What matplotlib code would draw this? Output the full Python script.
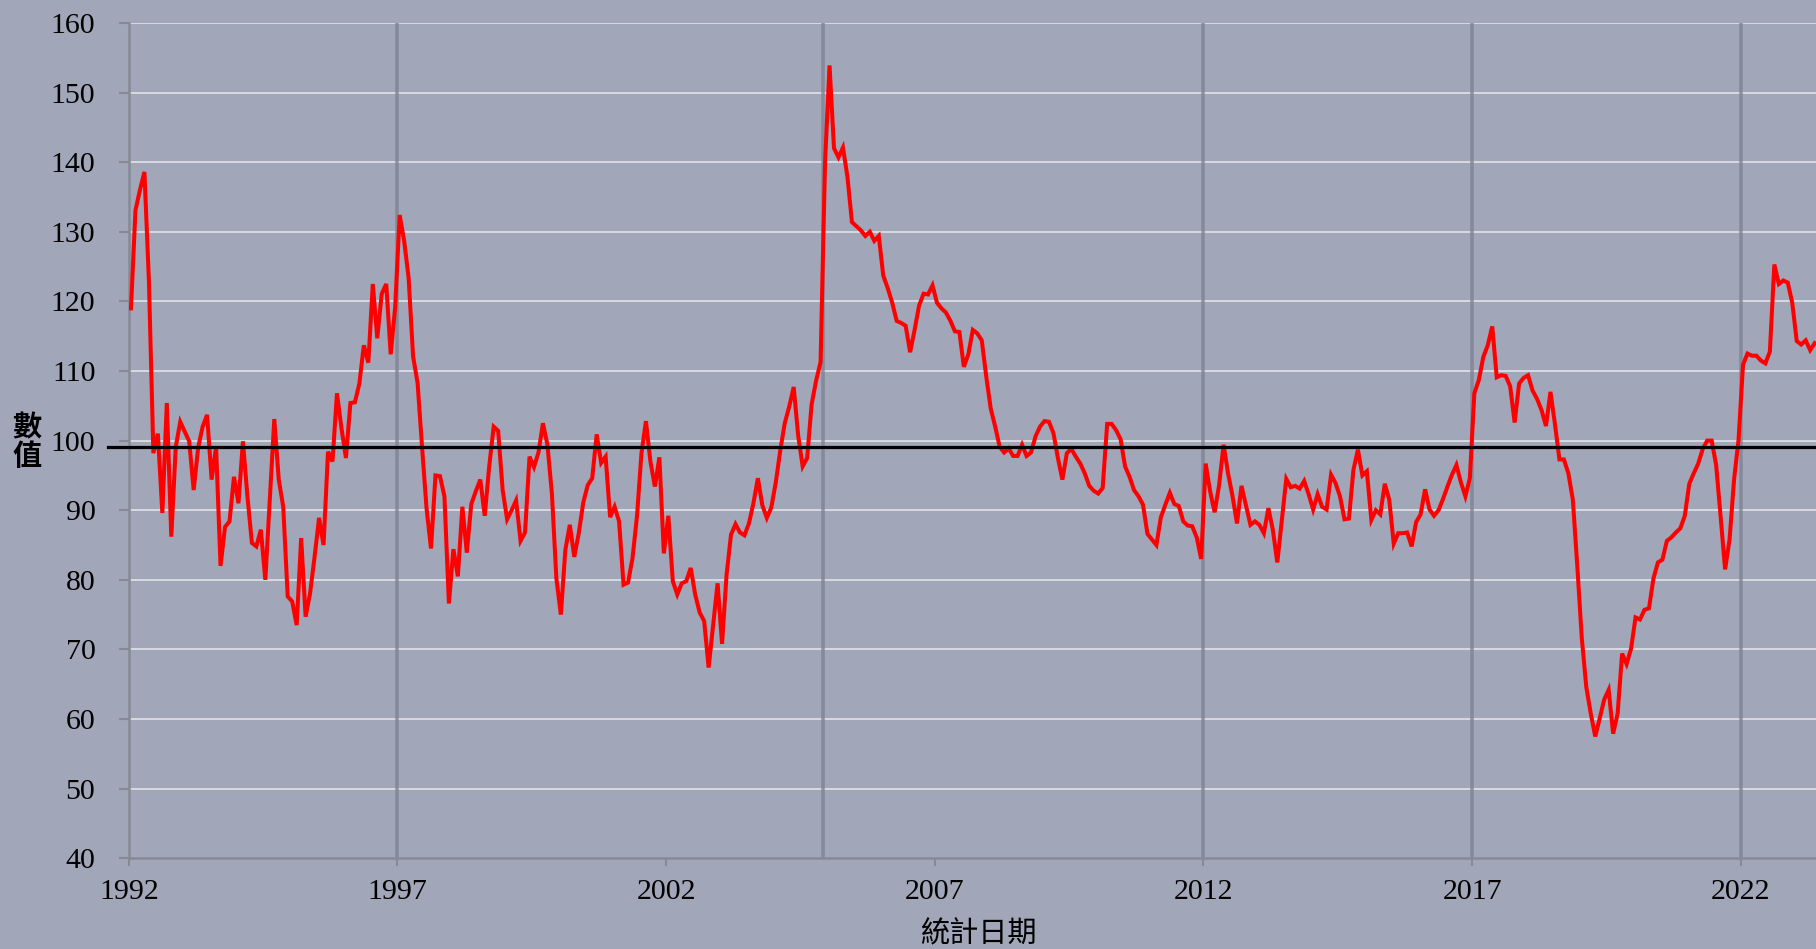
import matplotlib
matplotlib.use("Agg")
import matplotlib.pyplot as plt
import numpy as np

# ---- data (monthly, starting Jan 1992) ----
start_year = 1992
values = [
    119.0, 133.1, 136.0, 138.6, 123.0, 98.2, 101.0, 89.6, 105.4, 86.2,
    99.1, 102.7, 101.3, 99.9, 92.9, 99.0, 102.0, 103.7, 94.4, 99.1,
    82.0, 87.6, 88.4, 94.8, 91.0, 99.9, 92.0, 85.3, 84.8, 87.2,
    80.0, 91.5, 103.1, 94.4, 90.5, 77.6, 76.9, 73.5, 86.0, 74.7,
    78.1, 83.3, 88.9, 85.0, 98.4, 97.0, 106.8, 101.8, 97.5, 105.4,
    105.5, 108.2, 113.7, 111.2, 122.5, 114.7, 121.1, 122.5, 112.4, 119.2,
    132.4, 128.7, 123.4, 112.1, 108.3, 99.1, 90.3, 84.5, 95.0, 94.9,
    92.0, 76.6, 84.4, 80.5, 90.5, 83.9, 90.9, 92.7, 94.4, 89.2,
    96.3, 102.0, 101.4, 92.9, 88.7, 90.0, 91.4, 85.6, 86.8, 97.7,
    96.2, 98.3, 102.5, 99.4, 92.4, 80.2, 75.0, 84.3, 87.9, 83.3,
    86.7, 91.1, 93.6, 94.6, 100.9, 96.8, 97.7, 89.0, 90.5, 88.4,
    79.3, 79.6, 83.1, 89.1, 98.2, 102.8, 97.0, 93.4, 97.6, 83.8,
    89.2, 79.8, 77.9, 79.5, 79.8, 81.7, 77.9, 75.3, 74.1, 67.4,
    73.5, 79.5, 70.8, 80.7, 86.5, 88.0, 86.8, 86.4, 88.1, 91.0,
    94.6, 90.7, 88.9, 90.4, 94.0, 98.6, 102.5, 104.9, 107.7, 100.7,
    96.3, 97.5, 105.2, 108.6, 111.3, 140.0, 153.9, 142.0, 140.7, 142.1,
    137.9, 131.4, 130.8, 130.2, 129.4, 130.0, 128.7, 129.4, 123.7, 121.9,
    119.8, 117.2, 116.9, 116.5, 112.7, 115.9, 119.4, 121.1, 121.0, 122.3,
    119.8, 119.0, 118.4, 117.2, 115.7, 115.6, 110.6, 112.4, 115.9, 115.4,
    114.4, 109.2, 104.6, 102.0, 99.1, 98.3, 98.9, 97.8, 97.8, 99.4,
    97.8, 98.3, 100.6, 102.0, 102.8, 102.7, 101.1, 97.5, 94.4, 98.2,
    98.8, 97.7, 96.7, 95.3, 93.5, 92.8, 92.4, 93.2, 102.4, 102.4,
    101.5, 100.2, 96.3, 94.8, 92.9, 92.0, 90.8, 86.6, 85.8, 85.0,
    89.0, 90.8, 92.5, 90.9, 90.6, 88.4, 87.8, 87.7, 86.1, 83.0,
    96.7, 92.7, 89.7, 93.6, 99.4, 95.3, 92.0, 88.1, 93.5, 90.7,
    87.9, 88.4, 87.9, 86.7, 90.3, 87.2, 82.5, 88.5, 94.5, 93.3,
    93.5, 93.1, 94.2, 92.3, 90.1, 92.3, 90.5, 90.1, 95.1, 93.9,
    92.0, 88.7, 88.8, 95.8, 98.7, 95.0, 95.6, 88.6, 90.0, 89.4,
    93.8, 91.5, 85.2, 86.7, 86.7, 86.8, 84.8, 88.3, 89.4, 93.0,
    90.1, 89.2, 90.0, 91.6, 93.4, 95.1, 96.5, 94.0, 92.0, 94.6,
    106.8, 108.7, 112.0, 113.7, 116.4, 109.1, 109.4, 109.3, 107.8, 102.6,
    108.2, 109.0, 109.4, 107.2, 106.0, 104.4, 102.1, 107.0, 102.4, 97.3,
    97.3, 95.3, 91.5, 81.9, 71.6, 64.6, 60.8, 57.5, 60.1, 62.8,
    64.2, 57.9, 60.8, 69.4, 67.9, 70.1, 74.6, 74.3, 75.7, 75.9,
    80.2, 82.5, 82.9, 85.6, 86.1, 86.8, 87.4, 89.2, 93.8, 95.3,
    96.7, 98.8, 100.0, 100.0, 96.5, 89.1, 81.5, 85.8, 94.4, 100.1,
    110.9, 112.5, 112.2, 112.2, 111.5, 111.1, 112.8, 125.3, 122.5, 123.0,
    122.7, 119.8, 114.3, 113.8, 114.4, 113.0, 114.0,
]
reference_level = 99.1
event_years = [1997.0, 2004.92, 2012.0, 2017.0, 2022.0]
xtick_years = [1992, 1997, 2002, 2007, 2012, 2017, 2022]
ytick_values = [40, 50, 60, 70, 80, 90, 100, 110, 120, 130, 140, 150, 160]
x_label = "統計日期"
y_label = "數\n值"

# ---- styling ----
bg = "#a1a6b8"
serif = ["Liberation Serif", "DejaVu Serif"]
cjk = ["Noto Sans CJK TC", "DejaVu Sans"]

x = start_year + (np.arange(len(values)) + 0.5) / 12.0

fig = plt.figure(figsize=(18.16, 9.49), dpi=100, facecolor=bg)
ax = fig.add_axes([0.0709, 0.0956, 0.9291, 0.8802], facecolor=bg)

ax.set_xlim(1992, 2023.4)
ax.set_ylim(40, 160)

for yv in ytick_values[1:]:
    ax.axhline(yv, color="#dcdee5", lw=1.3, zorder=1)
for ev in event_years:
    ax.axvline(ev, color="#7f8494", lw=2.6, alpha=0.8, zorder=1.5)

ax.plot(x, values, color="#ff0000", lw=2.9, zorder=3, solid_joinstyle="miter")
ax.axhline(reference_level, xmin=-0.0121, xmax=1.0, color="black", lw=2.3,
           zorder=4, clip_on=False)

for s in ["top", "right"]:
    ax.spines[s].set_visible(False)
for s in ["left", "bottom"]:
    ax.spines[s].set_color("#878a95")
    ax.spines[s].set_linewidth(1.8)

ax.set_yticks(ytick_values)
ax.set_xticks(xtick_years)
ax.set_xticklabels([str(v) for v in xtick_years])
ax.tick_params(axis="y", direction="out", length=7, width=1.5, color="#878a95",
               pad=17, labelsize=21.5)
ax.tick_params(axis="x", direction="out", length=6, width=1.5, color="#878a95",
               pad=9, labelsize=21.5)
for lab in ax.get_xticklabels() + ax.get_yticklabels():
    lab.set_fontfamily(serif)
    lab.set_color("black")

fig.text(978 / 1816, 1 - 934 / 949, x_label, ha="center", va="center",
         fontsize=21, family=cjk)
fig.text(27 / 1816, 1 - 442 / 949, y_label, ha="center", va="center",
         fontsize=21, family=cjk, linespacing=0.95, fontweight="bold")

fig.savefig("out.png", dpi=100, facecolor=bg)
